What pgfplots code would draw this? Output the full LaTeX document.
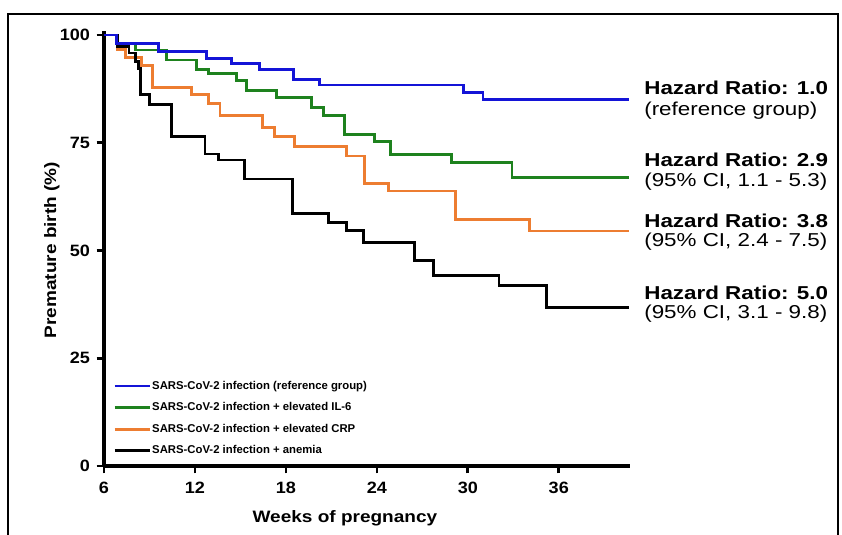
\documentclass[border=0pt]{standalone}
\usepackage{pgfplots}
\pgfplotsset{compat=1.18}
\usepackage{fontspec}
\setmainfont{Liberation Sans}
\definecolor{kmblue}{RGB}{20,20,215}
\definecolor{kmgreen}{RGB}{30,130,30}
\definecolor{kmorange}{RGB}{237,125,49}

\pgfplotstableread{
x y
6 100
6.84 98.1
9.58 96.2
12.77 94.6
14.42 93.4
16.28 91.9
18.48 89.7
20.2 88.4
29.69 86.6
31.0 85.1
40.63 85.1
}\bluedata
\pgfplotstableread{
x y
6 100
6.84 98.1
8.1 96.5
10.13 94.2
12.11 92.0
12.88 91.1
14.75 89.4
15.41 87.2
17.38 85.5
19.69 83.2
20.46 81.3
21.89 77.0
23.86 75.3
24.92 72.2
28.92 70.4
32.92 66.9
40.63 66.9
}\greendata
\pgfplotstableread{
x y
6 100
6.86 96.6
7.43 94.8
8.5 93.0
9.2 87.9
11.78 86.1
12.88 84.1
13.65 81.4
16.46 78.6
17.27 76.4
18.59 74.1
22.0 71.9
23.16 65.6
24.79 63.8
29.18 57.1
34.08 54.5
40.63 54.5
}\orangedata
\pgfplotstableread{
x y
6 100
6.9 97.4
7.65 95.8
8.1 93.9
8.3 92.3
8.41 86.1
9.0 83.8
10.46 76.4
12.66 72.4
13.54 71.0
15.29 66.6
18.44 58.5
20.79 56.5
22.0 54.6
23.1 51.9
26.46 47.6
27.75 44.2
32.06 41.8
35.18 36.8
40.63 36.8
}\blackdata

\begin{document}
\begin{tikzpicture}[x=0.75pt,y=0.75pt]
\useasboundingbox (0,0) rectangle (842,535);
\draw[line width=1.6pt] (8,521) rectangle (838,-30);
\begin{axis}[
  at={(78pt,51.75pt)}, anchor=south west,
  scale only axis, width=394.5pt, height=326.5pt,
  xmin=6, xmax=40.7, ymin=0, ymax=101,
  axis lines*=left,
  axis line style={line width=2.3pt},
  xtick={6,12,18,24,30,36},
  ytick={0,25,50,75,100},
  tick align=outside,
  major tick length=5.5pt,
  every tick/.style={line width=2pt, black},
  /pgf/number format/assume math mode=true,
  tick label style={font=\bfseries\fontsize{12.3}{14}\selectfont, xscale=1.1},
  xticklabel style={yshift=-3pt},
  yticklabel style={xshift=-1pt},
  xlabel={Weeks of pregnancy},
  ylabel={Premature birth (\%)},
  xlabel style={font=\bfseries\fontsize{12.4}{14}\selectfont, xscale=1.15, at={(axis description cs:0.458,-0.12)}, anchor=center},
  ylabel style={font=\bfseries\fontsize{12.4}{14}\selectfont, xscale=1.15, at={(axis description cs:-0.099,0.496)}, anchor=center},
  legend style={at={(axis description cs:0.01,0.205)}, anchor=north west, draw=none, fill=none,
    font=\bfseries\fontsize{8.5}{10}\selectfont, row sep=6.7pt,
    nodes={inner sep=1pt, text height=6pt, text depth=1.5pt}},
  legend cell align=left,
  legend image code/.code={\draw[#1] (0pt,0pt) -- (22.5pt,0pt); \path (0pt,0pt) -- (26pt,0pt);},
  clip=false,
]
\addlegendimage{kmblue, line width=2pt}
\addlegendentry{SARS-CoV-2 infection (reference group)}
\addlegendimage{kmgreen, line width=2pt}
\addlegendentry{SARS-CoV-2 infection + elevated IL-6}
\addlegendimage{kmorange, line width=2pt}
\addlegendentry{SARS-CoV-2 infection + elevated CRP}
\addlegendimage{black, line width=2pt}
\addlegendentry{SARS-CoV-2 infection + anemia}

\addplot[const plot, kmgreen, line width=2.1pt, forget plot] table[x=x,y=y] {\greendata};
\addplot[const plot, kmorange, line width=2.1pt, forget plot] table[x=x,y=y] {\orangedata};
\addplot[const plot, black, line width=2.1pt, forget plot] table[x=x,y=y] {\blackdata};
\addplot[const plot, kmblue, line width=2.1pt, forget plot] table[x=x,y=y] {\bluedata};
\end{axis}
\begin{scope}[every node/.style={anchor=base west, inner sep=0pt, xscale=1.2}]
\node[font=\bfseries\fontsize{14}{16}\selectfont] at (644,440) {Hazard Ratio: 1.0};
\node[font=\fontsize{14}{16}\selectfont] at (644,419.5) {(reference group)};
\node[font=\bfseries\fontsize{14}{16}\selectfont] at (644,368) {Hazard Ratio: 2.9};
\node[font=\fontsize{14}{16}\selectfont] at (644,348.5) {(95\% CI, 1.1 - 5.3)};
\node[font=\bfseries\fontsize{14}{16}\selectfont] at (644,307) {Hazard Ratio: 3.8};
\node[font=\fontsize{14}{16}\selectfont] at (644,288.5) {(95\% CI, 2.4 - 7.5)};
\node[font=\bfseries\fontsize{14}{16}\selectfont] at (644,235) {Hazard Ratio: 5.0};
\node[font=\fontsize{14}{16}\selectfont] at (644,216.5) {(95\% CI, 3.1 - 9.8)};
\end{scope}
\end{tikzpicture}
\end{document}
